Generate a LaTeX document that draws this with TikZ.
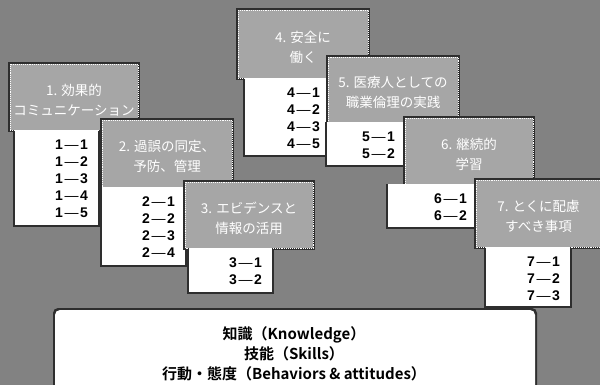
\documentclass[tikz,border=0pt]{standalone}
\usepackage{fontspec}
\setmainfont{Noto Sans CJK JP}
\newfontfamily\jpb{Noto Sans CJK JP}[BoldFont=* Bold]
\newfontfamily\lsb{Liberation Sans}
\definecolor{bg}{HTML}{828282}
\definecolor{hd}{HTML}{A6A6A6}
\definecolor{sh}{HTML}{2E2E2E}
\tikzset{
  shadowbox/.style={fill=sh},
  headbox/.style={fill=hd, draw=white, densely dotted, line width=0.9pt},
  listbox/.style={fill=white},
  headtext/.style={text=white, font=\fontsize{13.5}{20}\selectfont, align=center, inner sep=0pt, yshift=-3pt},
  listtext/.style={text=black, font=\lsb\bfseries\fontsize{14}{17}\selectfont, align=right, inner sep=0pt, anchor=north east},
}
\newcommand{\dd}[2]{#1\hspace{1.5pt}{\mdseries —}\hspace{1.5pt}#2}
\newcommand{\card}[8]{%
  \fill[shadowbox] ($(#2)+(-1.8,-1.8)$) rectangle ($(#3)+(1.8,1.8)$);
  \fill[shadowbox] ($(#4)+(-2.2,0)$) rectangle ($(#5)+(1.8,2.2)$);
  \path[headbox] (#2) rectangle (#3);
  \fill[listbox] (#4) rectangle (#5);
  \node[headtext] (h#1) at ($(#2)!0.5!(#3)$) {#6};
  \coordinate (c#1) at ($(#5|-#4)+(-10,10)$);
  \node[listtext] (l#1) at (c#1) {#7};
}
\usetikzlibrary{calc}
\begin{document}
\begin{tikzpicture}[x=1pt,y=-1pt]
\fill[bg] (0,0) rectangle (600,385);
\useasboundingbox (0,0) rectangle (600,385);
\card{1}{10,64}{138,130}{15,130}{98,225}{1. 効果的\\コミュニケーション}{\dd11\\\dd12\\\dd13\\\dd14\\\dd15}{}
\card{2}{102,120}{232,187}{102,187}{185,265}{2. 過誤の同定、\\予防、管理}{\dd21\\\dd22\\\dd23\\\dd24}{}
\card{3}{185,182}{313,248}{189,248}{272,292}{3. エビデンスと\\情報の活用}{\dd31\\\dd32}{}
\card{4}{238,10}{368,78}{245,78}{330,155}{4. 安全に\\働く}{\dd41\\\dd42\\\dd43\\\dd45}{}
\card{5}{328,57}{458,122}{327,122}{405,165}{5. 医療人としての\\職業倫理の実践}{\dd51\\\dd52}{}
\card{6}{405,118}{533,184}{388,184}{477,227}{6. 継続的\\学習}{\dd61\\\dd62}{}
\card{7}{476,180}{601,247}{486,247}{570,306}{7. とくに配慮\\すべき事項}{\dd71\\\dd72\\\dd73}{}
\fill[sh, rounded corners=5pt] (53,308) rectangle (537,392);
\fill[white, rounded corners=5pt] (55,310) rectangle (535,392);
\node[text=black, font=\jpb\bfseries\fontsize{15}{20}\selectfont, align=center, inner sep=0pt] (kn) at (294,354) {知識（Knowledge）\\技能（Skills）\\行動・態度（Behaviors \& attitudes）};
\end{tikzpicture}
\end{document}
